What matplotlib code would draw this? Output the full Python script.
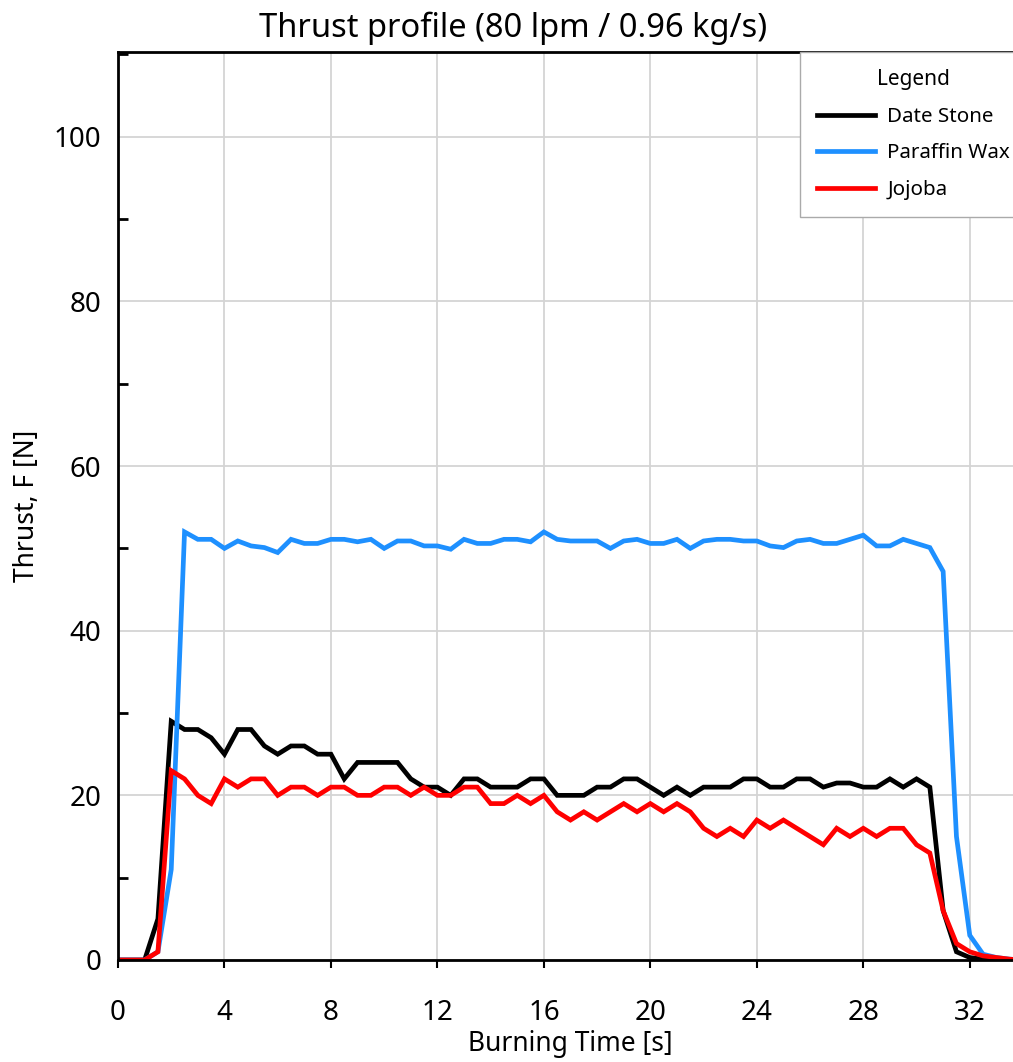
import numpy as np
import matplotlib
matplotlib.use("Agg")
from matplotlib import pyplot as plt
from matplotlib.ticker import MultipleLocator

plt.rcParams['font.family'] = ['Noto Sans', 'DejaVu Sans']

# sampling every 0.5 s
time_s = np.arange(0, 34.01, 0.5)

date_stone = [0, 0, 0, 5, 29, 28, 28, 27, 25, 28, 28, 26, 25, 26, 26, 25, 25, 22,
              24, 24, 24, 24, 22, 21, 21, 20, 22, 22, 21, 21, 21, 22, 22, 20, 20, 20,
              21, 21, 22, 22, 21, 20, 21, 20, 21, 21, 21, 22, 22, 21, 21, 22, 22, 21,
              21.5, 21.5, 21, 21, 22, 21, 22, 21, 6, 1, 0.3, 0.1, 0, 0, 0]

paraffin_wax = [0, 0, 0, 1, 11, 52, 51.1, 51.1, 50, 50.9, 50.3, 50.1, 49.5, 51.1,
                50.6, 50.6, 51.1, 51.1, 50.8, 51.1, 50, 50.9, 50.9, 50.3, 50.3, 49.9,
                51.1, 50.6, 50.6, 51.1, 51.1, 50.8, 52, 51.1, 50.9, 50.9, 50.9, 50,
                50.9, 51.1, 50.6, 50.6, 51.1, 50, 50.9, 51.1, 51.1, 50.9, 50.9, 50.3,
                50.1, 50.9, 51.1, 50.6, 50.6, 51.1, 51.6, 50.3, 50.3, 51.1, 50.6, 50.1,
                47.2, 15, 3, 0.7, 0.3, 0.1, 0]

jojoba = [0, 0, 0, 1, 23, 22, 20, 19, 22, 21, 22, 22, 20, 21, 21, 20, 21, 21, 20,
          20, 21, 21, 20, 21, 20, 20, 21, 21, 19, 19, 20, 19, 20, 18, 17, 18, 17, 18,
          19, 18, 19, 18, 19, 18, 16, 15, 16, 15, 17, 16, 17, 16, 15, 14, 16, 15, 16,
          15, 16, 16, 14, 13, 6, 2, 1, 0.5, 0.3, 0.1, 0]

series = [("Date Stone", date_stone, "black"),
          ("Paraffin Wax", paraffin_wax, "#1e90ff"),
          ("Jojoba", jojoba, "#ff0000")]

W, H = 1013, 1062
fig = plt.figure(figsize=(W / 100, H / 100), dpi=100)
# axes runs a little past the right edge of the figure
ax = fig.add_axes([118 / W, 102 / H, 905 / W, 908 / H])

for name, vals, col in series:
    ax.plot(time_s, vals, color=col, lw=3.4, label=name, solid_joinstyle='miter')

ax.set_xlim(0, 34)
ax.set_ylim(0, 110.3)
ax.xaxis.set_major_locator(MultipleLocator(4))
ax.yaxis.set_major_locator(MultipleLocator(20))
ax.yaxis.set_minor_locator(MultipleLocator(10))
ax.grid(True, which='major', color='#d4d4d4', lw=1.3)
ax.set_axisbelow(True)

for s in ax.spines.values():
    s.set_linewidth(2.0)
ax.spines['right'].set_visible(False)

ax.tick_params(axis='x', which='major', direction='out', length=6, width=1.5,
               labelsize=20, pad=22)
ax.tick_params(axis='y', which='major', length=0, labelsize=20, pad=12)
ax.tick_params(axis='y', which='minor', direction='in', length=7, width=2)

# title centred on the figure, not the axes
fig.text(513 / W, 1 - 28 / H, "Thrust profile (80 lpm / 0.96 kg/s)", fontsize=23.5,
         ha='center', va='center')
ax.set_xlabel("Burning Time [s]", fontsize=19, labelpad=2)
ax.set_ylabel("Thrust, F [N]", fontsize=19, labelpad=9)

leg = ax.legend(title="Legend", loc='upper left',
                bbox_to_anchor=(800 / W, 1 - 52 / H), bbox_transform=fig.transFigure,
                borderaxespad=0, fontsize=14.8, title_fontsize=15, fancybox=False,
                framealpha=1, edgecolor='#aaaaaa', handlelength=2.8,
                handletextpad=0.6, labelspacing=0.8, borderpad=0.85)
leg.get_frame().set_linewidth(1.0)

fig.savefig("out.png", dpi=100)
